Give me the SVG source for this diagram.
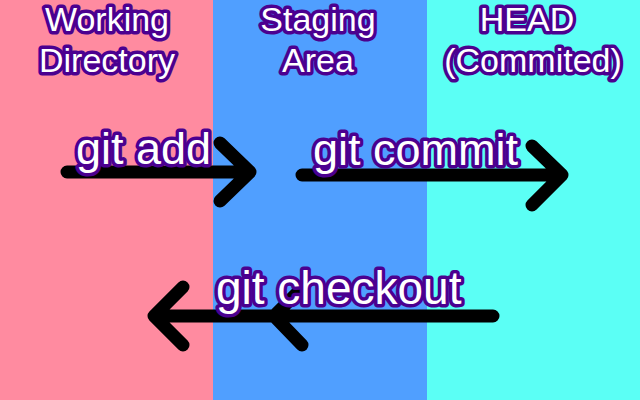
<svg xmlns="http://www.w3.org/2000/svg" width="640" height="400" viewBox="0 0 640 400">
<style>
.lbl{font-family:"Liberation Sans",Arial,sans-serif;fill:#fff;stroke:#4b0090;stroke-width:7;stroke-linejoin:round;paint-order:stroke fill}
.hd{font-size:34px;text-anchor:middle}
.cmd{font-size:45px}
.arr{fill:none;stroke:#000;stroke-width:13;stroke-linecap:round;stroke-linejoin:round}
</style>
<g id="columns">
<rect id="working" x="0" y="0" width="213" height="400" fill="#ff8ba0"/>
<rect id="staging" x="213" y="0" width="214" height="400" fill="#509fff"/>
<rect id="head" x="427" y="0" width="213" height="400" fill="#5bfff5"/>
</g>
<g id="connectors">
<path class="arr" d="M67,172 H250 M220,143 L250,172 L220,201"/>
<path class="arr" d="M302,175 H562 M532,146 L562,175 L532,205"/>
<path class="arr" d="M493,316 H154 M183,287 L154,316 L183,345 M302,288 L274,316 L302,345"/>
</g>
<g id="node-working">
<text class="lbl hd" x="107" y="31">Working</text>
<text class="lbl hd" x="107" y="72">Directory</text>
</g>
<g id="node-staging">
<text class="lbl hd" x="318" y="31">Staging</text>
<text class="lbl hd" x="318" y="72">Area</text>
</g>
<g id="node-head">
<text class="lbl hd" x="527" y="31">HEAD</text>
<text class="lbl hd" x="533" y="72">(Commited)</text>
</g>
<g id="labels">
<text class="lbl cmd" x="76" y="164">git add</text>
<text class="lbl cmd" x="313" y="165">git commit</text>
<text class="lbl cmd" x="216" y="304" style="font-size:46px">git checkout</text>
</g>
</svg>
